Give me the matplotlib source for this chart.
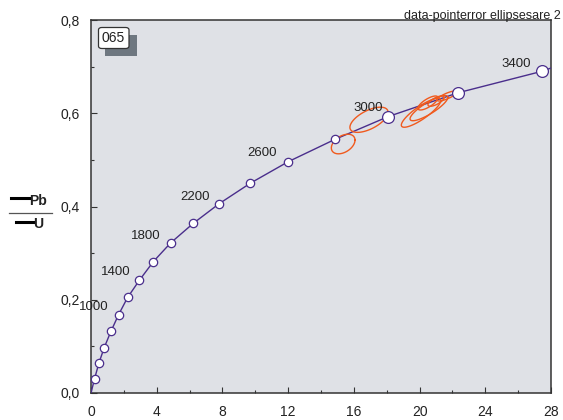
import numpy as np
import matplotlib
matplotlib.use("Agg")
import matplotlib.pyplot as plt
from matplotlib.patches import FancyBboxPatch, Rectangle
from matplotlib.lines import Line2D

plt.rcParams['font.family'] = ['Liberation Sans', 'DejaVu Sans']

# Concordia curve points (207Pb/235U, 206Pb/238U)
conc_x = [0.0, 0.22, 0.48, 0.80, 1.21, 1.68, 2.23, 2.95, 3.80, 4.85, 6.23, 7.80, 9.70, 12.00, 14.85, 18.10, 22.35, 27.45, 28.0]
conc_y = [0.0, 0.031, 0.064, 0.097, 0.132, 0.168, 0.205, 0.242, 0.282, 0.322, 0.364, 0.406, 0.450, 0.496, 0.544, 0.593, 0.644, 0.690, 0.697]

# Age markers (every 200 Ma)
mark_x_small = [0.22, 0.48, 0.80, 1.21, 1.68, 2.23, 2.95, 3.80, 4.85, 6.23, 7.80, 9.70, 12.00, 14.85]
mark_y_small = [0.031, 0.064, 0.097, 0.132, 0.168, 0.205, 0.242, 0.282, 0.322, 0.364, 0.406, 0.450, 0.496, 0.544]
mark_x_big = [18.10, 22.35, 27.45]
mark_y_big = [0.593, 0.644, 0.690]

# Age labels
age_labels = ["1000", "1400", "1800", "2200", "2600", "3000", "3400"]
age_lab_x = [0.18, 1.52, 3.35, 6.33, 10.4, 16.9, 25.9]
age_lab_y = [0.184, 0.26, 0.337, 0.42, 0.515, 0.611, 0.706]

# Error ellipses: centre, half-extents and correlation
ell_cx = [15.35, 16.92, 20.09, 20.57, 20.51, 21.00, 21.67]
ell_cy = [0.534, 0.586, 0.601, 0.611, 0.622, 0.626, 0.637]
ell_sx = [0.72, 1.16, 1.20, 1.15, 0.61, 0.49, 0.61]
ell_sy = [0.021, 0.027, 0.031, 0.027, 0.015, 0.011, 0.0107]
ell_rho = [0.4, 0.6, 0.85, 0.85, 0.75, 0.7, 0.8]

xticks = [0, 4, 8, 12, 16, 20, 24, 28]
xticklabels = ["0", "4", "8", "12", "16", "20", "24", "28"]
yticks = [0.0, 0.2, 0.4, 0.6, 0.8]
yticklabels = ["0,0", "0,2", "0,4", "0,6", "0,8"]

W, H = 563, 420
fig = plt.figure(figsize=(W / 100, H / 100), dpi=100)
ax = fig.add_axes([91 / W, 1 - 393 / H, (551 - 91) / W, (393 - 20) / H])
ax.set_facecolor('#DFE1E6')
ax.set_xlim(0, 28)
ax.set_ylim(0, 0.8)

line_col = '#4A2E8C'
ax.plot(conc_x, conc_y, color=line_col, lw=1.0, zorder=3)

ell_col = '#F05A1E'
t = np.linspace(0, 2 * np.pi, 100)
for cx, cy, sx, sy, r in zip(ell_cx, ell_cy, ell_sx, ell_sy, ell_rho):
    cov = np.array([[sx ** 2, r * sx * sy], [r * sx * sy, sy ** 2]])
    L = np.linalg.cholesky(cov)
    pts = L @ np.vstack([np.cos(t), np.sin(t)])
    ax.plot(cx + pts[0], cy + pts[1], color=ell_col, lw=1.0, zorder=4)

ax.plot(mark_x_small, mark_y_small, 'o', ms=6, mfc='white', mec=line_col, mew=0.9, zorder=5)
ax.plot(mark_x_big, mark_y_big, 'o', ms=8.5, mfc='white', mec=line_col, mew=0.9, zorder=5)

for s, x, y in zip(age_labels, age_lab_x, age_lab_y):
    ax.text(x, y, s, ha='center', va='center', fontsize=9.5, color='#222222', zorder=6,
            clip_on=False)

ax.set_xticks(xticks)
ax.set_xticklabels(xticklabels)
ax.set_yticks(yticks)
ax.set_yticklabels(yticklabels)
ax.set_xticks(np.arange(0, 29, 2), minor=True)
ax.set_yticks(np.arange(0, 0.81, 0.1), minor=True)
ax.tick_params(which='both', direction='in', color='#333333', labelsize=10, labelcolor='#222222')
ax.tick_params(which='major', length=4, width=0.8)
ax.tick_params(which='minor', length=2.5, width=0.8)
ax.tick_params(axis='y', pad=8)
ax.tick_params(axis='x', pad=9)
for sp in ax.spines.values():
    sp.set_color('#333333')
    sp.set_linewidth(1.1)

def fx(px):
    return px / W

def fy(py):
    return 1 - py / H

# sample label box with shadow
shadow = Rectangle((fx(105), fy(56)), fx(137) - fx(105), fy(35) - fy(56),
                   transform=fig.transFigure, facecolor='#6E7780', edgecolor='none', zorder=10)
fig.patches.append(shadow)
box = FancyBboxPatch((fx(98.5), fy(48.5)), fx(129) - fx(98.5), fy(27.5) - fy(48.5),
                     boxstyle='round,pad=0,rounding_size=0.006', transform=fig.transFigure,
                     facecolor='white', edgecolor='#333333', lw=0.9, zorder=11)
fig.patches.append(box)
fig.text(fx(113.5), fy(38.5), "065", ha='center', va='center', fontsize=10, color='#222222', zorder=12)

# title text (as visible in the reference)
fig.text(fx(561), fy(16), "data-pointerror ellipsesare 2", ha='right', va='center', fontsize=9,
         color='#222222')

# y-axis label: fraction Pb / U with missing superscripts drawn as bars
fig.lines.append(Line2D([fx(11), fx(30)], [fy(198), fy(198)], transform=fig.transFigure,
                        color='black', lw=2.2))
fig.text(fx(37.5), fy(200.5), "Pb", ha='center', va='center', fontsize=10, fontweight='bold', color='#222222')
fig.lines.append(Line2D([fx(9), fx(52)], [fy(213), fy(213)], transform=fig.transFigure,
                        color='#555555', lw=0.9))
fig.lines.append(Line2D([fx(16), fx(33)], [fy(221.5), fy(221.5)], transform=fig.transFigure,
                        color='black', lw=2.2))
fig.text(fx(38), fy(224.5), "U", ha='center', va='center', fontsize=10, fontweight='bold', color='#222222')

fig.savefig('out.png', dpi=100)
